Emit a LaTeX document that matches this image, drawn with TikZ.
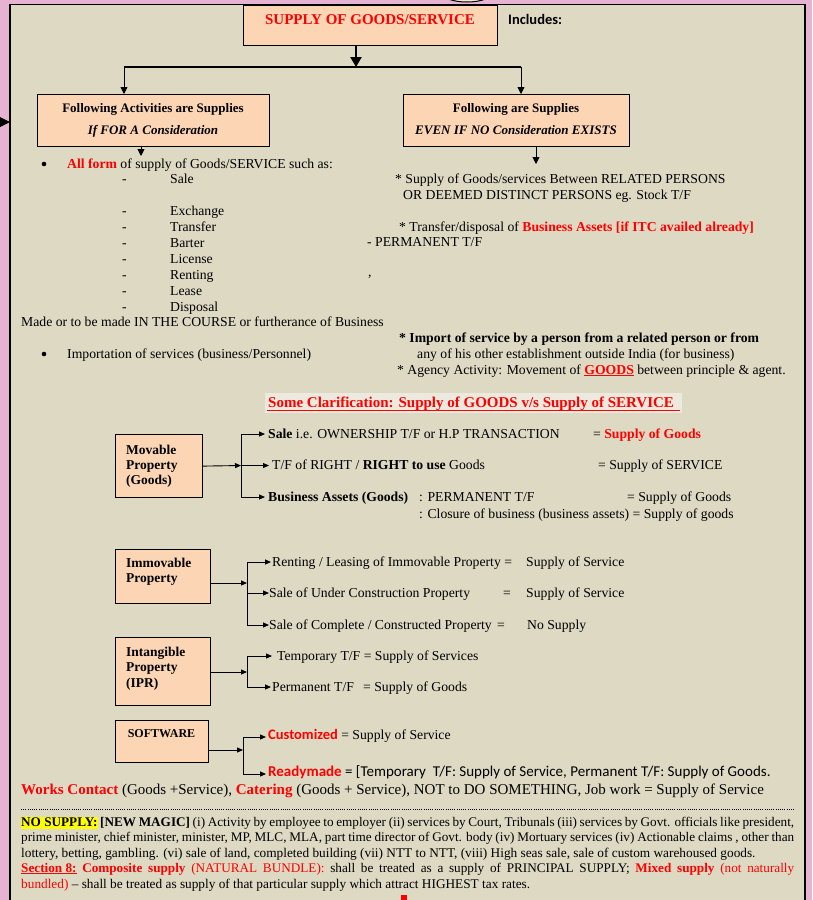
\documentclass[tikz,border=0pt]{standalone}
\usepackage{fontspec}
\setmainfont{Liberation Serif}
\newfontfamily\calibri{Carlito}
\usetikzlibrary{arrows.meta}
\definecolor{pinkbg}{HTML}{E6B4D2}
\definecolor{panel}{HTML}{DDD9C3}
\definecolor{boxfill}{HTML}{FCD5B5}
\definecolor{myred}{HTML}{FF0000}
\definecolor{hiyellow}{HTML}{FFFF00}
\definecolor{titlebg}{HTML}{ECEADF}
\definecolor{ovalfill}{HTML}{F4EFD2}
\newcommand\fs[1]{\fontsize{#1}{#1}\selectfont}
\newcommand\rd[1]{\textcolor{myred}{#1}}
\newcommand\hly[1]{{\setlength{\fboxsep}{0pt}\colorbox{hiyellow}{\rule[-3pt]{0pt}{12.5pt}#1}}}
\newcommand\jline[1]{\makebox[773pt][s]{\spaceskip=0.25em plus 1em minus 0.12em #1}}
\begin{document}
\begin{tikzpicture}[x=1pt,y=-1pt,
  T/.style={anchor=base west, inner sep=0pt, font=\fs{13.7}},
  B/.style={anchor=base west, inner sep=0pt, font=\fs{13.5}\bfseries},
  box/.style={draw=black, fill=boxfill, line width=1.2pt, inner sep=0pt, anchor=north west},
  dot/.style={circle, fill=black, inner sep=0pt, minimum size=4.6pt},
  ln/.style={line width=0.9pt},
  arr/.style={ln, -{Triangle[length=6pt,width=5pt]}},
  arrb/.style={ln, -{Triangle[length=7pt,width=7pt]}},
  thk/.style={line width=2.6pt, -{Triangle[length=10pt,width=11pt]}}]
\useasboundingbox (0,0) rectangle (812,900);
\fill[pinkbg] (0,0) rectangle (812,900);
\begin{scope}
\clip (0,0) rectangle (812,900);
\filldraw[fill=ovalfill, draw=black, line width=1pt] (467,-7) ellipse [x radius=25, y radius=9];
\filldraw[fill=panel, draw=black, line width=1.3pt] (10,4.5) rectangle (805,920);
\end{scope}
\fill[black] (0,117) -- (10,122) -- (0,127) -- cycle;

% top box
\node[box, minimum width=254, minimum height=40] (top) at (243,4.5) {};
\node[T, anchor=base, font=\fs{15}\bfseries, text=myred] (toptxt) at (370,24) {SUPPLY OF GOODS/SERVICE};
\node[T, font=\calibri\bfseries\fs{14.5}] (incl) at (508,24) {Includes:};

% second level boxes
\node[box, minimum width=232, minimum height=52] (lbox) at (37,94) {};
\node[T, anchor=base, font=\fs{13}\bfseries] (l1) at (153,112) {Following Activities are Supplies};
\node[T, anchor=base, font=\fs{13}\bfseries\itshape] (l2) at (153,134) {If FOR A Consideration};
\node[box, minimum width=226, minimum height=52] (rbox) at (403,94) {};
\node[T, anchor=base, font=\fs{13}\bfseries] (r1) at (516,112) {Following are Supplies};
\node[T, anchor=base, font=\fs{13}\bfseries\itshape] (r2) at (516,134) {EVEN IF NO Consideration EXISTS};

\coordinate (j0) at (356,67);
\coordinate (jl) at (124,67);
\coordinate (jr) at (521,67);
\draw[thk] (top.south -| j0) -- (j0);
\draw[line width=1.2pt] (jl) -- (jr);
\draw[arrb] (jl) -- (jl |- lbox.north);
\draw[arrb] (jr) -- (jr |- rbox.north);
\coordinate (la) at (141,156);
\coordinate (ra) at (536,164);
\draw[arrb] (lbox.south -| la) -- (la);
\draw[arrb] (rbox.south -| ra) -- (ra);

% left list
\node[dot] (bul1) at (44,164) {};
\node[T] (all) at (67,168) {\rd{\textbf{All form}} of supply of Goods/SERVICE such as:};
\node[T] (d1) at (122,183) {-}; \node[T] (i1) at (170,183) {Sale};
\node[T] (d2) at (122,215) {-}; \node[T] (i2) at (170,215) {Exchange};
\node[T] (d3) at (122,231) {-}; \node[T] (i3) at (170,231) {Transfer};
\node[T] (d4) at (122,247) {-}; \node[T] (i4) at (170,247) {Barter};
\node[T] (d5) at (122,263) {-}; \node[T] (i5) at (170,263) {License};
\node[T] (d6) at (122,279) {-}; \node[T] (i6) at (170,279) {Renting};
\node[T] (d7) at (122,295) {-}; \node[T] (i7) at (170,295) {Lease};
\node[T] (d8) at (122,311) {-}; \node[T] (i8) at (170,311) {Disposal};
\node[T] (made) at (21,326) {Made or to be made IN THE COURSE or furtherance of Business};
\node[dot] (bul2) at (44,354) {};
\node[T] (imp) at (67,358) {Importation of services (business/Personnel)};

% right list
\node[T] (s1) at (395,183) {* Supply of Goods/services Between RELATED PERSONS};
\node[T] (s2) at (403,199) {OR DEEMED DISTINCT PERSONS eg. Stock T/F};
\node[T] (s3) at (399,231) {* Transfer/disposal of \rd{\textbf{Business Assets [if ITC availed already]}}};
\node[T] (s4) at (367,246) {- PERMANENT T/F};
\node[T] (s5) at (368,276) {,};
\node[T] (s6) at (399,342) {\textbf{* Import of service by a person from a related person or from}};
\node[T] (s7) at (417,358) {any of his other establishment outside India (for business)};
\node[T] (s8) at (397,374) {* Agency Activity: Movement of \rd{\underline{\textbf{GOODS}}} between principle \& agent.};

% clarification title
\fill[titlebg] (265,393) rectangle (682,413);
\node[T, font=\fs{15}\bfseries, text=myred] (clar) at (268,407) {Some Clarification: Supply of GOODS v/s Supply of SERVICE};
\draw[myred, line width=1.6pt] (267,410.5) -- (680,410.5);

% movable
\node[box, minimum width=87, minimum height=63] (mov) at (115,434) {};
\node[B] (mv1) at (126,454) {Movable};
\node[B] (mv2) at (126,469) {Property};
\node[B] (mv3) at (126,484) {(Goods)};
\coordinate (mvj) at (241,465.5);
\coordinate (mvt) at (241,434);
\coordinate (mvb) at (241,497);
\draw[arr] (mov.east) -- (mvj);
\draw[ln] (mvt) -- (mvb);
\coordinate (ma1) at (265,434);
\coordinate (ma2) at (269,465.5);
\coordinate (ma3) at (265,497);
\draw[arr] (mvt) -- (ma1);
\draw[arr] (mvj) -- (ma2);
\draw[arr] (mvb) -- (ma3);
\node[T] (mt1) at (268,438) {\textbf{Sale} i.e. OWNERSHIP T/F or H.P TRANSACTION};
\node[T] (mr1) at (593,438) {= \rd{\textbf{Supply of Goods}}};
\node[T] (mt2) at (272,469) {T/F of RIGHT / \textbf{RIGHT to use} Goods};
\node[T] (mr2) at (598,469) {= Supply of SERVICE};
\node[T] (mt3) at (268,501) {\textbf{Business Assets (Goods)}};
\node[T] (mt3b) at (419,501) {: PERMANENT T/F};
\node[T] (mr3) at (627,501) {= Supply of Goods};
\node[T] (mt4) at (419,518) {: Closure of business (business assets) = Supply of goods};

% immovable
\node[box, minimum width=95, minimum height=54] (imm) at (115,549) {};
\node[B] (im1) at (126,567) {Immovable};
\node[B] (im2) at (126,582) {Property};
\coordinate (imj) at (247,583);
\coordinate (imt) at (247,562);
\coordinate (imm2) at (247,593);
\coordinate (imb) at (247,625);
\draw[arr] (imm.east |- imj) -- (imj);
\draw[ln] (imt) -- (imb);
\coordinate (ia1) at (271,562);
\coordinate (ia2) at (269,593);
\coordinate (ia3) at (269,625);
\draw[arr] (imt) -- (ia1);
\draw[arr] (imm2) -- (ia2);
\draw[arr] (imb) -- (ia3);
\node[T] (it1) at (272,566) {Renting / Leasing of Immovable Property =};
\node[T] (ir1) at (526,566) {Supply of Service};
\node[T] (it2) at (269,597) {Sale of Under Construction Property};
\node[T] (ie2) at (503,597) {=};
\node[T] (ir2) at (526,597) {Supply of Service};
\node[T] (it3) at (269,629) {Sale of Complete / Constructed Property};
\node[T] (ie3) at (497,629) {=};
\node[T] (ir3) at (527,629) {No Supply};

% intangible
\node[box, minimum width=95, minimum height=68] (intg) at (115,637) {};
\node[B] (in1) at (126,656) {Intangible};
\node[B] (in2) at (126,671) {Property};
\node[B] (in3) at (126,687) {(IPR)};
\coordinate (inj) at (247,672);
\coordinate (int) at (247,656);
\coordinate (inb) at (247,687);
\draw[arr] (intg.east |- inj) -- (inj);
\draw[ln] (int) -- (inb);
\coordinate (na1) at (272,656);
\coordinate (na2) at (271,687);
\draw[arr] (int) -- (na1);
\draw[arr] (inb) -- (na2);
\node[T] (nt1) at (277,660) {Temporary T/F = Supply of Services};
\node[T] (nt2) at (272,691) {Permanent T/F};
\node[T] (nr2) at (363,691) {= Supply of Goods};

% software
\node[box, minimum width=93, minimum height=42] (soft) at (115,720) {};
\node[T, anchor=base, font=\fs{12}\bfseries] (sw) at (161.5,737) {SOFTWARE};
\coordinate (swj) at (243,750);
\coordinate (swt) at (243,737);
\coordinate (swb) at (243,774);
\draw[arr] (soft.east |- swj) -- (swj);
\draw[ln] (swt) -- (swb);
\coordinate (sa1) at (266,737);
\coordinate (sa2) at (266,774);
\draw[arr] (swt) -- (sa1);
\draw[arr] (swb) -- (sa2);
\node[T] (cu) at (268,739) {{\calibri\bfseries\fs{14.5}\rd{Customized}} = Supply of Service};
\node[T, font=\calibri\fs{15}] (rm) at (268,776) {\rd{\bfseries Readymade} = [Temporary\ \ T/F: Supply of Service, Permanent T/F: Supply of Goods.};

% works contract line
\node[T, font=\fs{15}] (wc) at (21,794) {\rd{\textbf{Works Contact}} (Goods +Service), \rd{\textbf{Catering}} (Goods + Service), NOT to DO SOMETHING, Job work = Supply of Service};
\coordinate (dl) at (21,809);
\coordinate (dr) at (794,809);
\draw[line width=0.8pt, dash pattern=on 0.8pt off 1.4pt] (dl) -- (dr);

% bottom paragraph
\node[T, font=\fs{13.2}] (p1) at (21,826) {\jline{\hly{\textbf{NO SUPPLY:}} \textbf{[NEW MAGIC]} (i) Activity by employee to employer (ii) services by Court, Tribunals (iii) services by Govt. officials like president,}};
\node[T, font=\fs{13.2}] (p2) at (21,841) {\jline{prime minister, chief minister, minister, MP, MLC, MLA, part time director of Govt. body (iv) Mortuary services (iv) Actionable claims , other than}};
\node[T, font=\fs{13.3}] (p3) at (21,857) {lottery, betting, gambling. (vi) sale of land, completed building (vii) NTT to NTT, (viii) High seas sale, sale of custom warehoused goods.};
\node[T, font=\fs{13.2}] (p4) at (21,872) {\jline{\rd{\underline{\textbf{Section 8:}} \textbf{Composite supply} (NATURAL BUNDLE):} shall be treated as a supply of PRINCIPAL SUPPLY; \rd{\textbf{Mixed supply} (not naturally}}};
\node[T, font=\fs{13.3}] (p5) at (21,888) {\rd{bundled)} -- shall be treated as supply of that particular supply which attract HIGHEST tax rates.};
\fill[myred] (401,895) rectangle (407,901);
\end{tikzpicture}
\end{document}
